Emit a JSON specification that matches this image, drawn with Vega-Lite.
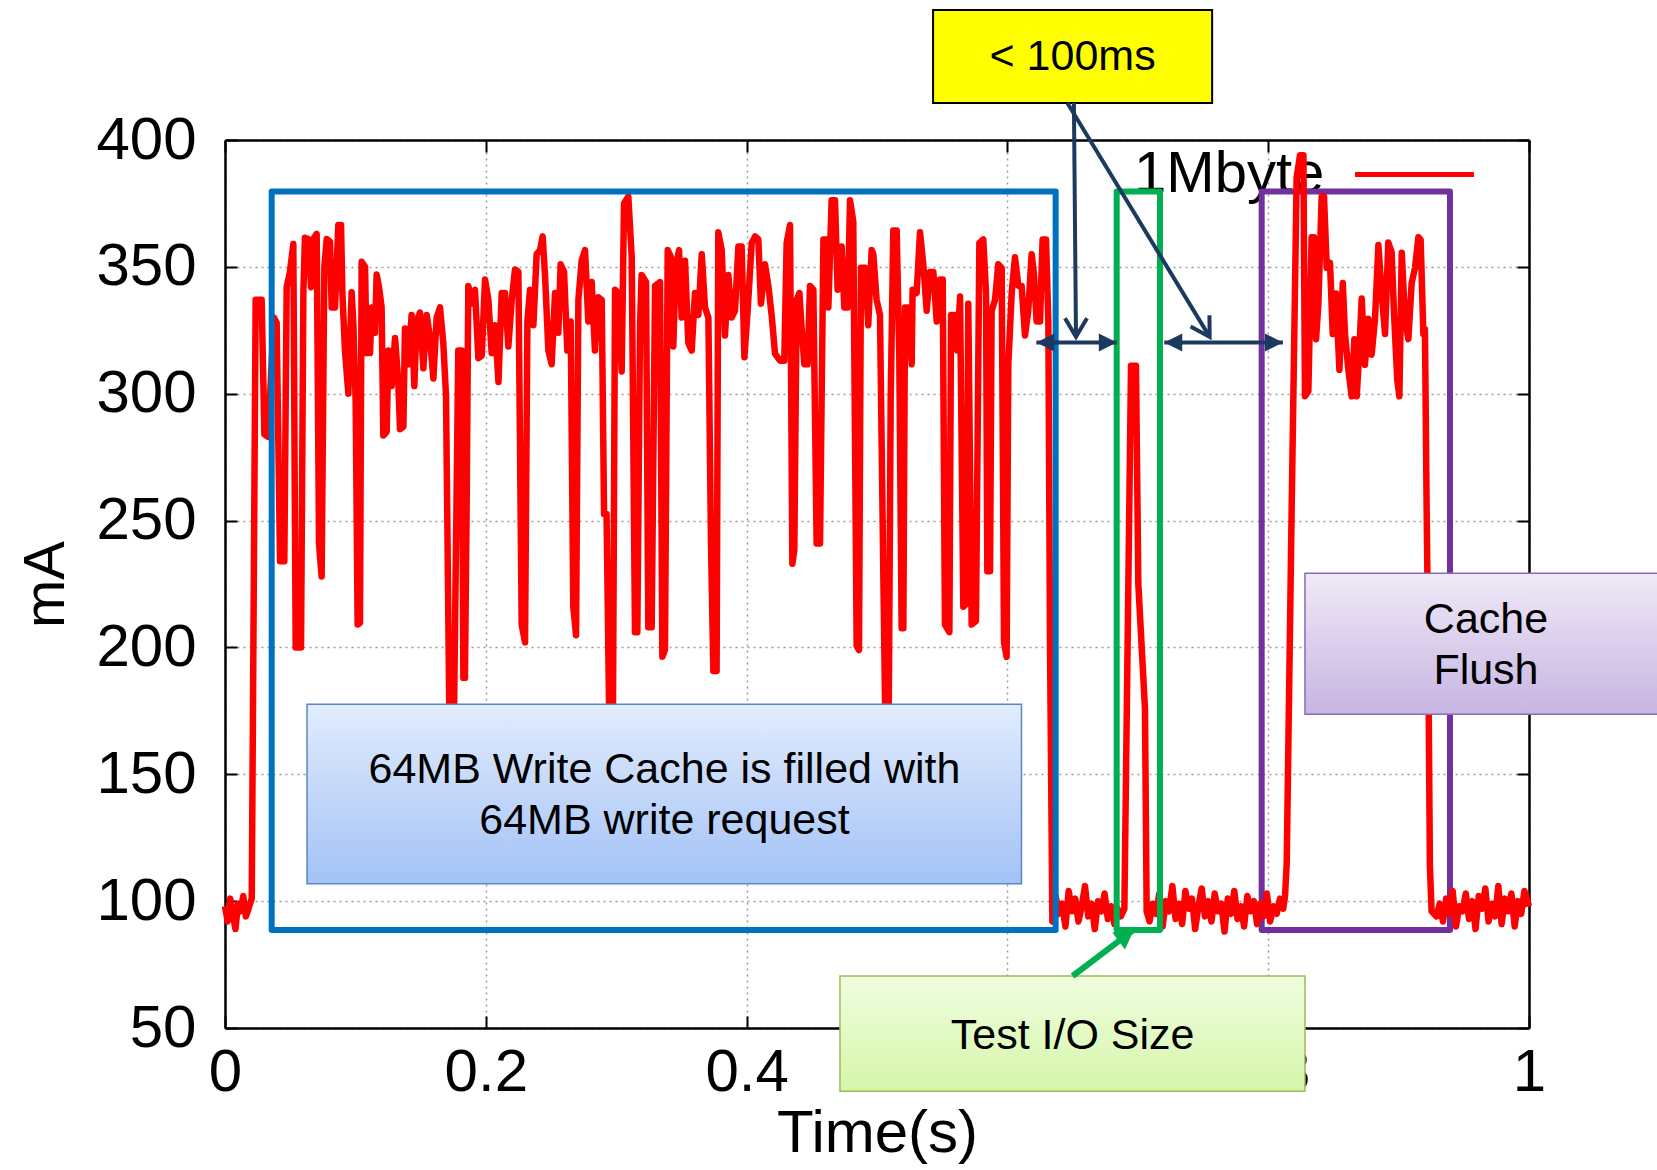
{
  "$schema": "https://vega.github.io/schema/vega-lite/v6.json",
  "width": 1304,
  "height": 888,
  "autosize": {"type": "none"},
  "padding": {"left": 225, "top": 140, "right": 128, "bottom": 142},
  "background": "white",
  "config": {"view": {"stroke": null}, "font": "Liberation Sans"},
  "datasets": {
    "curve": [
      {"time":0,"mA":98},{"time":0.002,"mA":92},{"time":0.004,"mA":101},{"time":0.006,"mA":95},{"time":0.008,"mA":89},{"time":0.010,"mA":99},{"time":0.012,"mA":96},{"time":0.014,"mA":102},{"time":0.016,"mA":94},{"time":0.018,"mA":97},{"time":0.0205,"mA":101},
      {"time":0.0235,"mA":337},{"time":0.0281,"mA":337},{"time":0.0302,"mA":284},{"time":0.0330,"mA":283},{"time":0.0375,"mA":330},{"time":0.0396,"mA":328},{"time":0.0422,"mA":234},{"time":0.0455,"mA":234},{"time":0.0473,"mA":342},{"time":0.0498,"mA":348},{"time":0.0524,"mA":359},{"time":0.0542,"mA":200},{"time":0.0583,"mA":200},{"time":0.0601,"mA":340},{"time":0.0613,"mA":361.5},{"time":0.0639,"mA":361},{"time":0.066,"mA":342},{"time":0.0677,"mA":361},{"time":0.0703,"mA":363},{"time":0.0721,"mA":241},{"time":0.0741,"mA":228},{"time":0.0762,"mA":350},{"time":0.078,"mA":361},{"time":0.0805,"mA":360},{"time":0.0818,"mA":334},{"time":0.0844,"mA":334},{"time":0.0869,"mA":366.5},{"time":0.089,"mA":366.5},{"time":0.09,"mA":340},{"time":0.092,"mA":317},{"time":0.0946,"mA":300},{"time":0.0971,"mA":340},{"time":0.0984,"mA":328},{"time":0.1002,"mA":297},{"time":0.1017,"mA":209},{"time":0.1035,"mA":209.7},{"time":0.1048,"mA":352},{"time":0.1074,"mA":350},{"time":0.1086,"mA":316},{"time":0.1112,"mA":316},{"time":0.1125,"mA":334},{"time":0.115,"mA":324},{"time":0.1163,"mA":347},{"time":0.1181,"mA":342},{"time":0.1201,"mA":334},{"time":0.1214,"mA":283.5},{"time":0.124,"mA":285},{"time":0.1253,"mA":317},{"time":0.1278,"mA":303},{"time":0.1304,"mA":322},{"time":0.1329,"mA":304.6},{"time":0.1342,"mA":286},{"time":0.1368,"mA":287},{"time":0.138,"mA":325.7},{"time":0.1406,"mA":311.6},{"time":0.1431,"mA":331},{"time":0.1452,"mA":303},{"time":0.147,"mA":328.5},{"time":0.1495,"mA":332},{"time":0.1521,"mA":310},{"time":0.1547,"mA":331},{"time":0.1572,"mA":322},{"time":0.1598,"mA":306},{"time":0.1623,"mA":330},{"time":0.1649,"mA":334},
      {"time":0.1674,"mA":320},{"time":0.1695,"mA":299},{"time":0.1725,"mA":150},{"time":0.1751,"mA":150},{"time":0.1789,"mA":317},{"time":0.1815,"mA":317},{"time":0.1828,"mA":188},{"time":0.1840,"mA":188},{"time":0.1853,"mA":255},{"time":0.1866,"mA":342.5},{"time":0.1892,"mA":335.5},{"time":0.1917,"mA":341},{"time":0.1943,"mA":314},{"time":0.1969,"mA":315},{"time":0.1994,"mA":345},{"time":0.2020,"mA":337},{"time":0.2045,"mA":316},{"time":0.2071,"mA":327},{"time":0.2097,"mA":304.6},{"time":0.2122,"mA":339.7},{"time":0.2147,"mA":339.7},{"time":0.2173,"mA":318.6},{"time":0.2199,"mA":337},{"time":0.2224,"mA":349},{"time":0.2250,"mA":348},{"time":0.2275,"mA":209},{"time":0.2301,"mA":202},{"time":0.2319,"mA":328.5},{"time":0.2339,"mA":341},{"time":0.2365,"mA":327},{"time":0.2390,"mA":355},{"time":0.2416,"mA":356.6},{"time":0.2436,"mA":362},{"time":0.2454,"mA":346.8},{"time":0.2480,"mA":317},{"time":0.2505,"mA":311.6},{"time":0.2531,"mA":339.7},{"time":0.2556,"mA":324},{"time":0.2574,"mA":351},{"time":0.2600,"mA":348},{"time":0.2625,"mA":317},{"time":0.2651,"mA":328.5},{"time":0.2671,"mA":216},{"time":0.2692,"mA":204.8},{"time":0.2710,"mA":337},{"time":0.2735,"mA":352.4},{"time":0.2761,"mA":356.6},{"time":0.2786,"mA":328.5},{"time":0.2812,"mA":344},{"time":0.2837,"mA":317},{"time":0.2863,"mA":338},{"time":0.2889,"mA":337},{"time":0.2907,"mA":252.6},{"time":0.2926,"mA":252.6},{"time":0.2952,"mA":150},{"time":0.2973,"mA":150},{"time":0.2991,"mA":341},{"time":0.3016,"mA":339.7},{"time":0.3042,"mA":308.8},{"time":0.3060,"mA":375},{"time":0.3093,"mA":377.7},{"time":0.3119,"mA":353.8},{"time":0.3144,"mA":206},{"time":0.3162,"mA":206},{"time":0.3183,"mA":327},{"time":0.3195,"mA":346.8},{"time":0.3229,"mA":344},{"time":0.3246,"mA":208},{"time":0.3272,"mA":208},{"time":0.3298,"mA":342.5},{"time":0.3336,"mA":344},
      {"time":0.3354,"mA":196.3},{"time":0.3374,"mA":199},{"time":0.3395,"mA":356.6},{"time":0.3420,"mA":353.8},{"time":0.3438,"mA":318.6},{"time":0.3456,"mA":349.6},{"time":0.3482,"mA":356.6},{"time":0.3502,"mA":330},{"time":0.3528,"mA":352.4},{"time":0.3553,"mA":320},{"time":0.3579,"mA":317},{"time":0.3604,"mA":339.7},{"time":0.3630,"mA":331},{"time":0.3656,"mA":355},{"time":0.3681,"mA":334},{"time":0.3707,"mA":330},{"time":0.3727,"mA":241},{"time":0.3745,"mA":190.7},{"time":0.3770,"mA":190.7},{"time":0.3783,"mA":363.6},{"time":0.3809,"mA":356.6},{"time":0.3834,"mA":322.9},{"time":0.3860,"mA":346.8},{"time":0.3885,"mA":330},{"time":0.3911,"mA":332.7},{"time":0.3937,"mA":358},{"time":0.3962,"mA":358},{"time":0.3983,"mA":314.4},{"time":0.4008,"mA":332.7},{"time":0.4039,"mA":359.4},{"time":0.4065,"mA":362},{"time":0.4090,"mA":360.8},{"time":0.4110,"mA":335.5},{"time":0.4141,"mA":351},{"time":0.4167,"mA":342.5},{"time":0.4192,"mA":331},{"time":0.4218,"mA":315.8},{"time":0.4256,"mA":313},{"time":0.4289,"mA":313},{"time":0.4307,"mA":359.4},{"time":0.4333,"mA":366.5},{"time":0.4351,"mA":233},{"time":0.4366,"mA":238.5},{"time":0.4384,"mA":337},{"time":0.4405,"mA":339.7},{"time":0.4422,"mA":325.7},{"time":0.4443,"mA":311.6},{"time":0.4468,"mA":311.6},{"time":0.4486,"mA":342.5},{"time":0.4512,"mA":341},{"time":0.4537,"mA":241},{"time":0.4563,"mA":241},{"time":0.4589,"mA":360.8},{"time":0.4614,"mA":360.8},{"time":0.4627,"mA":334},{"time":0.4652,"mA":376.3},{"time":0.4678,"mA":376.3},{"time":0.4698,"mA":341},{"time":0.4729,"mA":358},{"time":0.4749,"mA":334},{"time":0.4775,"mA":334},{"time":0.4793,"mA":376.3},{"time":0.4818,"mA":367.9},{"time":0.4844,"mA":200.5},{"time":0.4862,"mA":199},{"time":0.4877,"mA":349.6},{"time":0.4908,"mA":349.6},{"time":0.4933,"mA":327},{"time":0.4959,"mA":356.6},
      {"time":0.4972,"mA":355},{"time":0.4997,"mA":337},{"time":0.5023,"mA":331},{"time":0.5049,"mA":227},{"time":0.5069,"mA":150},{"time":0.5087,"mA":150},{"time":0.5105,"mA":297.6},{"time":0.5125,"mA":364.3},{"time":0.5151,"mA":364.3},{"time":0.5171,"mA":314.4},{"time":0.5189,"mA":207.6},{"time":0.5202,"mA":207.6},{"time":0.5215,"mA":334},{"time":0.5240,"mA":334},{"time":0.5266,"mA":311.6},{"time":0.5273,"mA":341},{"time":0.5304,"mA":339.7},{"time":0.5330,"mA":363.6},{"time":0.5355,"mA":351},{"time":0.5381,"mA":332.7},{"time":0.5406,"mA":348},{"time":0.5432,"mA":348},{"time":0.5458,"mA":328.5},{"time":0.5483,"mA":345},{"time":0.5504,"mA":345},{"time":0.5521,"mA":209},{"time":0.5555,"mA":206},{"time":0.5568,"mA":331},{"time":0.5598,"mA":331},{"time":0.5616,"mA":317},{"time":0.5637,"mA":338.3},{"time":0.5662,"mA":216},{"time":0.5688,"mA":217.5},{"time":0.5700,"mA":335.5},{"time":0.5726,"mA":209},{"time":0.5759,"mA":210.4},{"time":0.5785,"mA":359.4},{"time":0.5815,"mA":360.8},{"time":0.5836,"mA":339.7},{"time":0.5846,"mA":230},{"time":0.5867,"mA":230},{"time":0.5879,"mA":332.7},{"time":0.5905,"mA":337},{"time":0.5930,"mA":351},{"time":0.5956,"mA":349.6},{"time":0.5974,"mA":202},{"time":0.5994,"mA":196.3},{"time":0.6007,"mA":311.6},{"time":0.6033,"mA":339.7},{"time":0.6058,"mA":353.8},{"time":0.6084,"mA":342.5},{"time":0.6109,"mA":342.5},{"time":0.6135,"mA":322.9},{"time":0.6160,"mA":332.7},{"time":0.6186,"mA":355},{"time":0.6204,"mA":346.8},{"time":0.6224,"mA":328.5},{"time":0.6250,"mA":328.5},{"time":0.6270,"mA":360.8},{"time":0.6296,"mA":360.8},{"time":0.6314,"mA":328.5},{"time":0.6327,"mA":200},{"time":0.6345,"mA":92},
      {"time":0.637,"mA":102},{"time":0.6395,"mA":95},{"time":0.642,"mA":99},{"time":0.6445,"mA":90},{"time":0.647,"mA":104},{"time":0.6495,"mA":96},{"time":0.652,"mA":101},{"time":0.6545,"mA":92},{"time":0.657,"mA":98},{"time":0.6595,"mA":106},{"time":0.662,"mA":94},{"time":0.6645,"mA":99},{"time":0.667,"mA":89},{"time":0.6695,"mA":100},{"time":0.672,"mA":96},{"time":0.6745,"mA":103},{"time":0.677,"mA":93},{"time":0.6795,"mA":98},{"time":0.682,"mA":91},{"time":0.6845,"mA":97},{"time":0.687,"mA":94},{"time":0.6897,"mA":97},
      {"time":0.6948,"mA":311},{"time":0.6986,"mA":311},{"time":0.7004,"mA":225},{"time":0.7055,"mA":176},{"time":0.7068,"mA":96},
      {"time":0.709,"mA":92},{"time":0.7115,"mA":99},{"time":0.714,"mA":95},{"time":0.7165,"mA":103},{"time":0.719,"mA":90},{"time":0.7215,"mA":100},{"time":0.724,"mA":96},{"time":0.7265,"mA":106},{"time":0.729,"mA":93},{"time":0.7315,"mA":99},{"time":0.734,"mA":91},{"time":0.7365,"mA":104},{"time":0.739,"mA":97},{"time":0.7415,"mA":101},{"time":0.744,"mA":89},{"time":0.7465,"mA":98},{"time":0.749,"mA":105},{"time":0.7515,"mA":94},{"time":0.754,"mA":100},{"time":0.7565,"mA":92},{"time":0.759,"mA":103},{"time":0.7615,"mA":96},{"time":0.764,"mA":99},{"time":0.7665,"mA":88},{"time":0.769,"mA":101},{"time":0.7715,"mA":95},{"time":0.774,"mA":104},{"time":0.7765,"mA":93},{"time":0.779,"mA":98},{"time":0.7815,"mA":90},{"time":0.784,"mA":102},{"time":0.7865,"mA":96},{"time":0.789,"mA":100},{"time":0.7915,"mA":91},{"time":0.794,"mA":99},{"time":0.7965,"mA":94},{"time":0.799,"mA":103},{"time":0.8015,"mA":92},{"time":0.804,"mA":98},{"time":0.8065,"mA":95},{"time":0.809,"mA":101},{"time":0.8115,"mA":97},
      {"time":0.8129,"mA":102},{"time":0.8142,"mA":115},{"time":0.818,"mA":255},{"time":0.8205,"mA":340},{"time":0.8218,"mA":385},{"time":0.8244,"mA":394},{"time":0.827,"mA":394},{"time":0.8282,"mA":299},{"time":0.8308,"mA":301},{"time":0.8333,"mA":361.7},{"time":0.8351,"mA":361.7},{"time":0.8367,"mA":321.5},{"time":0.8385,"mA":335.5},{"time":0.8410,"mA":377.7},{"time":0.8428,"mA":377.7},{"time":0.8449,"mA":349.6},{"time":0.8474,"mA":351.6},{"time":0.8495,"mA":323.5},{"time":0.8520,"mA":339.5},{"time":0.8546,"mA":309.4},{"time":0.8572,"mA":343.6},{"time":0.8589,"mA":323.5},{"time":0.8615,"mA":309.4},{"time":0.8640,"mA":299},{"time":0.8661,"mA":321.5},{"time":0.8679,"mA":299},{"time":0.8699,"mA":317.4},{"time":0.8717,"mA":337.5},{"time":0.8742,"mA":311.4},{"time":0.8768,"mA":329.5},{"time":0.8793,"mA":315.4},{"time":0.8819,"mA":329.5},{"time":0.8845,"mA":358.6},{"time":0.8870,"mA":339.5},{"time":0.8896,"mA":323.5},{"time":0.8921,"mA":359.6},{"time":0.8947,"mA":355.6},{"time":0.8965,"mA":331.5},{"time":0.8990,"mA":305.4},{"time":0.9006,"mA":299},{"time":0.9024,"mA":355.6},{"time":0.9049,"mA":329.5},{"time":0.9075,"mA":321.5},{"time":0.9100,"mA":343.6},{"time":0.9126,"mA":349.6},{"time":0.9152,"mA":361.7},{"time":0.9169,"mA":360.7},{"time":0.9190,"mA":323.5},{"time":0.9202,"mA":325.5},{"time":0.9215,"mA":255},{"time":0.9228,"mA":195},{"time":0.9240,"mA":114},{"time":0.9253,"mA":96},{"time":0.9291,"mA":94},
      {"time":0.9315,"mA":99},{"time":0.934,"mA":92},{"time":0.9365,"mA":101},{"time":0.939,"mA":95},{"time":0.9415,"mA":104},{"time":0.944,"mA":90},{"time":0.9465,"mA":98},{"time":0.949,"mA":96},{"time":0.9515,"mA":103},{"time":0.954,"mA":93},{"time":0.9565,"mA":100},{"time":0.959,"mA":89},{"time":0.9615,"mA":102},{"time":0.964,"mA":97},{"time":0.9665,"mA":105},{"time":0.969,"mA":92},{"time":0.9715,"mA":99},{"time":0.974,"mA":94},{"time":0.9765,"mA":106},{"time":0.979,"mA":91},{"time":0.9815,"mA":101},{"time":0.984,"mA":96},{"time":0.9865,"mA":103},{"time":0.989,"mA":90},{"time":0.9915,"mA":100},{"time":0.994,"mA":95},{"time":0.9965,"mA":104},{"time":1.0,"mA":98}
    ],
    "legend": [{"label": "1Mbyte", "x": 0.843, "y": 386.4, "lineStart": 0.8666, "lineEnd": 0.9578}],
    "frames": [
      {"frame": "fill", "x": 0.0358, "x2": 0.637, "y": 379.7, "y2": 88.6},
      {"frame": "io", "x": 0.6838, "x2": 0.717, "y": 379.7, "y2": 88.6},
      {"frame": "flush", "x": 0.795, "x2": 0.9394, "y": 379.7, "y2": 88.6}
    ],
    "notes": [
      {"note": "fill", "x": 0.0629, "x2": 0.6108, "y": 177.6, "y2": 106.9, "cx": 0.337, "cy": 151.6, "text": ["64MB Write Cache is filled with", "64MB write request"]},
      {"note": "flush", "x": 0.8282, "x2": 1.1, "y": 229.2, "y2": 173.7, "cx": 0.967, "cy": 210.8, "text": ["Cache", "Flush"]},
      {"note": "io", "x": 0.4716, "x2": 0.8282, "y": 70.5, "y2": 25.1, "cx": 0.65, "cy": 46.8, "text": ["Test I/O Size"]},
      {"note": "latency", "x": 0.543, "x2": 0.757, "y": 451.2, "y2": 414.6, "cx": 0.65, "cy": 432.9, "text": ["< 100ms"]}
    ],
    "arrows": [
      {"kind": "navy", "x": 0.6222, "x2": 0.6839, "y": 320.2, "y2": 320.2},
      {"kind": "navy", "x": 0.7203, "x2": 0.8113, "y": 320.2, "y2": 320.2},
      {"kind": "navy", "x": 0.651, "x2": 0.6526, "y": 414.6, "y2": 322.4},
      {"kind": "navy", "x": 0.646, "x2": 0.7551, "y": 414.6, "y2": 322.4},
      {"kind": "green", "x": 0.65, "x2": 0.697, "y": 70.5, "y2": 88.8}
    ],
    "heads": [
      {"head": "left", "x": 0.6222, "y": 320.2},
      {"head": "right", "x": 0.6839, "y": 320.2},
      {"head": "left", "x": 0.7203, "y": 320.2},
      {"head": "right", "x": 0.8113, "y": 320.2},
      {"head": "down", "x": 0.6526, "y": 322.4},
      {"head": "diag", "x": 0.7551, "y": 322.4},
      {"head": "green", "x": 0.697, "y": 88.8}
    ]
  },
  "encoding": {
    "x": {"field": "x", "type": "quantitative", "scale": {"domain": [0, 1], "nice": false, "zero": false}, "axis": null},
    "y": {"field": "y", "type": "quantitative", "scale": {"domain": [50, 400], "nice": false, "zero": false}, "axis": null}
  },
  "layer": [
    {
      "data": {"name": "legend"},
      "mark": {"type": "text", "align": "right", "baseline": "middle", "fontSize": 58, "font": "Liberation Sans", "color": "#000000"},
      "encoding": {"text": {"field": "label", "type": "nominal"}}
    },
    {
      "data": {"name": "frames"},
      "transform": [{"filter": "datum.frame === 'flush'"}],
      "mark": {"type": "rect", "filled": false, "stroke": "#7030A0", "strokeWidth": 6, "strokeJoin": "round"},
      "encoding": {"x2": {"field": "x2"}, "y2": {"field": "y2"}}
    },
    {
      "data": {"name": "curve"},
      "mark": {"type": "line", "color": "#FF0000", "strokeWidth": 6.5, "strokeJoin": "round"},
      "encoding": {
        "x": {"field": "time", "type": "quantitative", "scale": {"domain": [0, 1], "nice": false, "zero": false},
          "axis": {"orient": "bottom", "values": [0, 0.2, 0.4, 0.6, 0.8, 1], "format": "~g", "labelFont": "Liberation Sans", "labelFontSize": 60, "labelColor": "#000000", "labelPadding": 27, "labelDx": 8, "labelFlush": false, "labelOverlap": false, "tickSize": -12, "tickWidth": 2, "tickColor": "#000000", "domainColor": "#000000", "domainWidth": 2.5, "grid": true, "gridColor": "#9c9c9c", "gridDash": [2, 4], "gridWidth": 1.5, "title": "Time(s)", "titleFont": "Liberation Sans", "titleFontSize": 60, "titleFontWeight": "normal", "titleColor": "#000000", "titlePadding": 2}},
        "y": {"field": "mA", "type": "quantitative", "scale": {"domain": [50, 400], "nice": false, "zero": false},
          "axis": {"orient": "left", "values": [50, 100, 150, 200, 250, 300, 350, 400], "format": "d", "labelFont": "Liberation Sans", "labelFontSize": 60, "labelColor": "#000000", "labelPadding": 41, "labelFlush": false, "labelOverlap": false, "tickSize": -12, "tickWidth": 2, "tickColor": "#000000", "domainColor": "#000000", "domainWidth": 2.5, "grid": true, "gridColor": "#9c9c9c", "gridDash": [2, 4], "gridWidth": 1.5, "title": "mA", "titleFont": "Liberation Sans", "titleFontSize": 58, "titleFontWeight": "normal", "titleColor": "#000000", "titlePadding": 20}}
      }
    },
    {
      "data": {"name": "legend"},
      "mark": {"type": "rule", "color": "#FF0000", "strokeWidth": 5},
      "encoding": {
        "x": {"field": "lineStart", "type": "quantitative", "scale": {"domain": [0, 1], "nice": false, "zero": false},
          "axis": {"orient": "top", "values": [0, 0.2, 0.4, 0.6, 0.8, 1], "labels": false, "tickSize": -12, "tickWidth": 2, "tickColor": "#000000", "domainColor": "#000000", "domainWidth": 2.5, "grid": false, "title": null}},
        "x2": {"field": "lineEnd"},
        "y": {"field": "y", "type": "quantitative", "scale": {"domain": [50, 400], "nice": false, "zero": false},
          "axis": {"orient": "right", "values": [50, 100, 150, 200, 250, 300, 350, 400], "labels": false, "tickSize": -12, "tickWidth": 2, "tickColor": "#000000", "domainColor": "#000000", "domainWidth": 2.5, "grid": false, "title": null}}
      }
    },
    {
      "data": {"name": "frames"},
      "transform": [{"filter": "datum.frame !== 'flush'"}],
      "mark": {"type": "rect", "filled": false, "strokeWidth": 6, "strokeJoin": "round"},
      "encoding": {
        "x2": {"field": "x2"}, "y2": {"field": "y2"},
        "stroke": {"field": "frame", "type": "nominal", "scale": {"domain": ["fill", "io"], "range": ["#0070C0", "#00B050"]}, "legend": null}
      }
    },
    {
      "data": {"name": "notes"},
      "transform": [{"filter": "datum.note === 'fill'"}],
      "mark": {"type": "rect", "stroke": "#5a87c6", "strokeWidth": 1.5,
        "fill": {"gradient": "linear", "x1": 0, "y1": 0, "x2": 0, "y2": 1, "stops": [{"offset": 0, "color": "#e2ecfd"}, {"offset": 1, "color": "#a3c2f7"}]}},
      "encoding": {"x2": {"field": "x2"}, "y2": {"field": "y2"}}
    },
    {
      "data": {"name": "notes"},
      "transform": [{"filter": "datum.note === 'flush'"}],
      "mark": {"type": "rect", "stroke": "#8a6cb0", "strokeWidth": 1.5,
        "fill": {"gradient": "linear", "x1": 0, "y1": 0, "x2": 0, "y2": 1, "stops": [{"offset": 0, "color": "#efe9f7"}, {"offset": 1, "color": "#c7b5e2"}]}},
      "encoding": {"x2": {"field": "x2"}, "y2": {"field": "y2"}}
    },
    {
      "data": {"name": "notes"},
      "transform": [{"filter": "datum.note === 'io'"}],
      "mark": {"type": "rect", "stroke": "#9bbb59", "strokeWidth": 1.5,
        "fill": {"gradient": "linear", "x1": 0, "y1": 0, "x2": 0, "y2": 1, "stops": [{"offset": 0, "color": "#f0fde0"}, {"offset": 1, "color": "#d5f6a9"}]}},
      "encoding": {"x2": {"field": "x2"}, "y2": {"field": "y2"}}
    },
    {
      "data": {"name": "notes"},
      "transform": [{"filter": "datum.note === 'latency'"}],
      "mark": {"type": "rect", "stroke": "#000000", "strokeWidth": 2, "fill": "#FFFF00"},
      "encoding": {"x2": {"field": "x2"}, "y2": {"field": "y2"}}
    },
    {
      "data": {"name": "notes"},
      "mark": {"type": "text", "align": "center", "baseline": "middle", "fontSize": 43, "lineHeight": 51, "font": "Liberation Sans", "color": "#000000"},
      "encoding": {
        "x": {"field": "cx", "type": "quantitative", "scale": {"domain": [0, 1], "nice": false, "zero": false}, "axis": null},
        "y": {"field": "cy", "type": "quantitative", "scale": {"domain": [50, 400], "nice": false, "zero": false}, "axis": null},
        "text": {"field": "text", "type": "nominal"}
      }
    },
    {
      "data": {"name": "arrows"},
      "transform": [{"filter": "datum.kind === 'navy'"}],
      "mark": {"type": "rule", "color": "#1c3a60", "strokeWidth": 4, "strokeCap": "butt"},
      "encoding": {"x2": {"field": "x2"}, "y2": {"field": "y2"}}
    },
    {
      "data": {"name": "arrows"},
      "transform": [{"filter": "datum.kind === 'green'"}],
      "mark": {"type": "rule", "color": "#00B050", "strokeWidth": 6, "strokeCap": "butt"},
      "encoding": {"x2": {"field": "x2"}, "y2": {"field": "y2"}}
    },
    {
      "data": {"name": "heads"},
      "transform": [{"filter": "datum.head === 'left'"}],
      "mark": {"type": "point", "shape": "M0,0L-0.9,1.8L0.9,1.8Z", "size": 400, "angle": 270, "filled": true, "color": "#1c3a60", "opacity": 1, "strokeWidth": 0}
    },
    {
      "data": {"name": "heads"},
      "transform": [{"filter": "datum.head === 'right'"}],
      "mark": {"type": "point", "shape": "M0,0L-0.9,1.8L0.9,1.8Z", "size": 400, "angle": 90, "filled": true, "color": "#1c3a60", "opacity": 1, "strokeWidth": 0}
    },
    {
      "data": {"name": "heads"},
      "transform": [{"filter": "datum.head === 'green'"}],
      "mark": {"type": "point", "shape": "M0,0L-1,1.8L1,1.8Z", "size": 450, "angle": 53, "filled": true, "color": "#00B050", "opacity": 1, "strokeWidth": 0}
    },
    {
      "data": {"name": "heads"},
      "transform": [{"filter": "datum.head === 'down'"}],
      "mark": {"type": "point", "shape": "M-1,1.7L0,0L1,1.7", "size": 484, "angle": 180, "filled": false, "color": "#1c3a60", "opacity": 1, "strokeWidth": 4}
    },
    {
      "data": {"name": "heads"},
      "transform": [{"filter": "datum.head === 'diag'"}],
      "mark": {"type": "point", "shape": "M-1,1.7L0,0L1,1.7", "size": 484, "angle": 149, "filled": false, "color": "#1c3a60", "opacity": 1, "strokeWidth": 4}
    }
  ],
  "resolve": {"axis": {"x": "independent", "y": "independent"}}
}
